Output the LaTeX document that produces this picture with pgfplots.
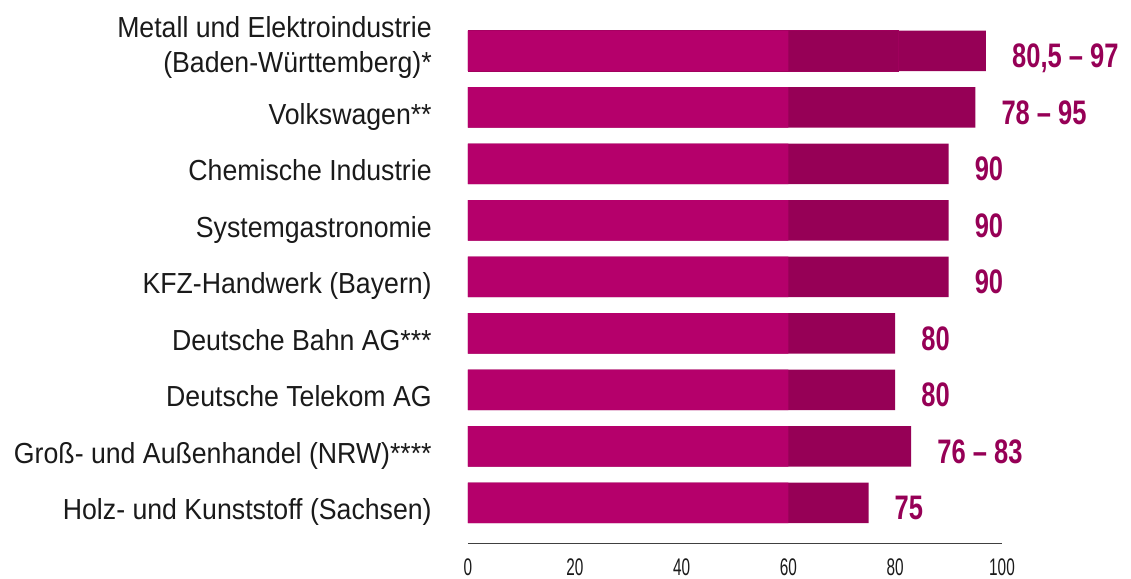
\documentclass[border=0pt]{standalone}
\usepackage{pgfplots}
\pgfplotsset{compat=1.18}
\usepackage{fontspec}
\setmainfont[FakeStretch=0.92]{Liberation Sans}
\newfontfamily\valfont[FakeStretch=0.75]{Liberation Sans}
\newfontfamily\tickfont[FakeStretch=0.64]{Liberation Sans}
\definecolor{lightmag}{RGB}{181,0,107}
\definecolor{darkmag}{RGB}{150,0,86}
\definecolor{txt}{RGB}{26,26,26}
\begin{document}
\begin{tikzpicture}
\begin{axis}[
  at={(0,0)}, anchor=south west,
  scale only axis, width=534pt, height=520.4pt,
  xmin=0, xmax=100, ymin=-0.5, ymax=8.71, y dir=reverse,
  clip=false,
  axis x line=bottom, axis y line=left,
  axis line style={-},
  x axis line style={draw=black!75, line width=1pt},
  y axis line style={draw=none},
  tick style={draw=none},
  xtick={0,20,40,60,80,100},
  /pgf/number format/assume math mode=true,
  xticklabel style={font=\tickfont\fontsize{24}{26}\selectfont, text=txt, anchor=north, inner sep=0pt, yshift=-13pt},
  ytick={0,1,2,3,4,5,6,7,8},
  yticklabels={
    {\raisebox{-5pt}{\begin{tabular}[b]{@{}r@{}}Metall und Elektroindustrie\\(Baden-Württemberg)*\end{tabular}}},
    Volkswagen**,
    Chemische Industrie,
    Systemgastronomie,
    KFZ-Handwerk (Bayern),
    Deutsche Bahn AG***,
    Deutsche Telekom AG,
    Groß- und Außenhandel (NRW)****,
    Holz- und Kunststoff (Sachsen)},
  yticklabel style={font=\fontsize{29}{35}\selectfont, text=txt, anchor=base east, inner sep=0pt, xshift=-34pt, yshift=-17pt},
]
% darker full bars
\addplot[xbar, bar width=40.5pt, bar shift=0pt, fill=darkmag, draw=none]
  coordinates {(97,0) (95,1) (90,2) (90,3) (90,4) (80,5) (80,6) (83,7) (75,8)};
% seam at 80.5 (Metall)
\addplot[xbar, bar width=40.5pt, bar shift=0pt, fill=darkmag, draw=none]
  coordinates {(80.5,0)};
\addplot[xbar, bar width=40.5pt, bar shift=0pt, fill=none, draw=lightmag!30!darkmag, line width=0.5pt]
  coordinates {(80.5,0)};
% lighter part 0-60
\addplot[xbar, bar width=40.5pt, bar shift=0pt, fill=lightmag, draw=none]
  coordinates {(60,0) (60,1) (60,2) (60,3) (60,4) (60,5) (60,6) (60,7) (60,8)};
% value labels
\addplot[draw=none, mark=none, nodes near coords, point meta=explicit symbolic,
  nodes near coords style={anchor=base west, inner sep=0pt, xshift=26pt, yshift=-17pt,
    font=\valfont\bfseries\fontsize{34}{36}\selectfont, text=darkmag}]
  coordinates {(97,0) [{80,5 – 97}] (95,1) [{78 – 95}] (90,2) [90] (90,3) [90] (90,4) [90]
               (80,5) [80] (80,6) [80] (83,7) [{76 – 83}] (75,8) [75]};
\end{axis}
\pgfresetboundingbox
\path[use as bounding box] (-468pt,-35pt) rectangle (663pt,543pt);
\end{tikzpicture}
\end{document}
